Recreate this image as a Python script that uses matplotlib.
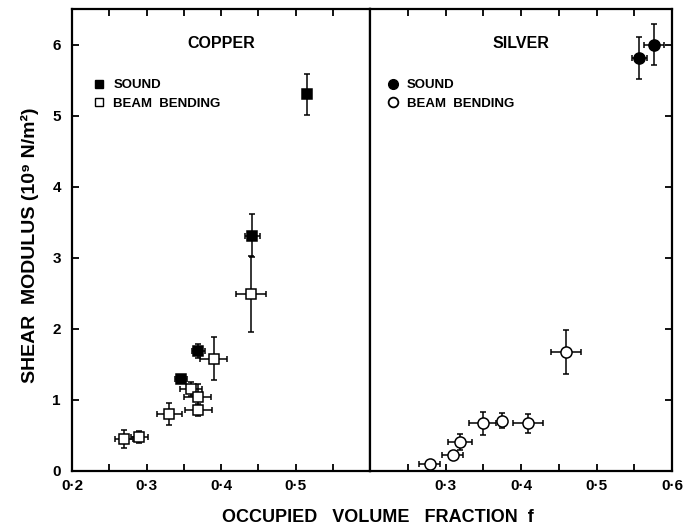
import numpy as np
import matplotlib.pyplot as plt
from matplotlib.lines import Line2D

plt.rcParams['font.family'] = ['Liberation Sans', 'DejaVu Sans']
plt.rcParams['font.weight'] = 'bold'

# copper, sound (filled squares)
cu_snd_f = [0.515, 0.442, 0.3695, 0.3465]
cu_snd_g = [5.30, 3.31, 1.69, 1.29]
cu_snd_fe = [0.0, 0.010, 0.009, 0.008]
cu_snd_ge = [0.29, 0.30, 0.10, 0.05]

# copper, beam bending (open squares)
cu_bb_f = [0.440, 0.390, 0.360, 0.3687, 0.3695, 0.3305, 0.270, 0.2905]
cu_bb_g = [2.49, 1.58, 1.15, 1.04, 0.86, 0.80, 0.45, 0.48]
cu_bb_fe = [0.020, 0.018, 0.015, 0.018, 0.018, 0.017, 0.012, 0.011]
cu_bb_ge = [0.53, 0.30, 0.10, 0.18, 0.08, 0.15, 0.12, 0.08]

# silver, sound (filled circles)
ag_snd_f = [0.5567, 0.5758]
ag_snd_g = [5.81, 6.00]
ag_snd_fe = [0.010, 0.013]
ag_snd_ge = [0.29, 0.29]

# silver, beam bending (open circles)
ag_bb_f = [0.4594, 0.409, 0.3746, 0.3495, 0.3191, 0.3098, 0.2793]
ag_bb_g = [1.67, 0.67, 0.71, 0.67, 0.41, 0.225, 0.094]
ag_bb_fe = [0.020, 0.020, 0.0, 0.018, 0.016, 0.014, 0.014]
ag_bb_ge = [0.31, 0.13, 0.11, 0.16, 0.11, 0.05, 0.03]

fig = plt.figure(figsize=(6.94, 5.31), dpi=100)
ax1 = fig.add_axes([72 / 694, 60 / 531, 298 / 694, 462 / 531])
ax2 = fig.add_axes([370 / 694, 60 / 531, 302 / 694, 462 / 531], sharey=ax1)

eb = dict(ecolor='black', elinewidth=1.1, capsize=2.5, capthick=1.1,
          mec='black', mew=1.1, ls='none')

ax1.errorbar(cu_bb_f, cu_bb_g, xerr=cu_bb_fe, yerr=cu_bb_ge, fmt='s',
             ms=7.5, mfc='white', **eb)
ax1.errorbar(cu_snd_f, cu_snd_g, xerr=cu_snd_fe, yerr=cu_snd_ge, fmt='s',
             ms=7, mfc='black', **eb)
ax2.errorbar(ag_bb_f, ag_bb_g, xerr=ag_bb_fe, yerr=ag_bb_ge, fmt='o',
             ms=8, mfc='white', **eb)
ax2.errorbar(ag_snd_f, ag_snd_g, xerr=ag_snd_fe, yerr=ag_snd_ge, fmt='o',
             ms=8, mfc='black', **eb)

for ax in (ax1, ax2):
    ax.set_xlim(0.2, 0.6)
    ax.set_ylim(0, 6.5)
    ax.set_xticks(np.arange(0.25, 0.56, 0.05), minor=True)
    for s in ax.spines.values():
        s.set_linewidth(1.6)
    ax.tick_params(which='both', direction='in', length=5, width=1.3,
                   top=True, labelsize=11, pad=6)

ax1.set_xticks([0.2, 0.3, 0.4, 0.5])
ax1.set_xticklabels(['0·2', '0·3', '0·4', '0·5'])
ax2.set_xticks([0.3, 0.4, 0.5, 0.6])
ax2.set_xticklabels(['0·3', '0·4', '0·5', '0·6'])
ax1.set_yticks(range(7))
ax1.tick_params(axis='y', left=True, right=False, pad=8)
ax2.tick_params(axis='y', left=False, labelleft=False, right=True)

ax1.text(0.5, 0.925, 'COPPER', transform=ax1.transAxes, ha='center',
         va='center', fontsize=11.5, fontweight='bold')
ax2.text(0.5, 0.925, 'SILVER', transform=ax2.transAxes, ha='center',
         va='center', fontsize=11.5, fontweight='bold')

h1 = [Line2D([], [], marker='s', ls='none', ms=6, mfc='black', mec='black'),
      Line2D([], [], marker='s', ls='none', ms=6, mfc='white', mec='black')]
h2 = [Line2D([], [], marker='o', ls='none', ms=7, mfc='black', mec='black'),
      Line2D([], [], marker='o', ls='none', ms=7, mfc='white', mec='black', mew=1.3)]
leg_kw = dict(frameon=False, fontsize=9.5, handlelength=0.8, handletextpad=0.7,
              labelspacing=0.5, borderaxespad=0)
ax1.legend(h1, ['SOUND', 'BEAM  BENDING'], loc='upper left',
           bbox_to_anchor=(0.055, 0.86), **leg_kw)
ax2.legend(h2, ['SOUND', 'BEAM  BENDING'], loc='upper left',
           bbox_to_anchor=(0.04, 0.86), **leg_kw)

fig.text(30 / 694, 1 - 245 / 531, 'SHEAR  MODULUS (10⁹ N/m²)', rotation=90,
         ha='center', va='center', fontsize=14, fontweight='bold')
fig.text(378 / 694, 1 - 518 / 531, 'OCCUPIED   VOLUME   FRACTION  f',
         ha='center', va='center', fontsize=13, fontweight='bold')

fig.savefig('out.png', dpi=100)
